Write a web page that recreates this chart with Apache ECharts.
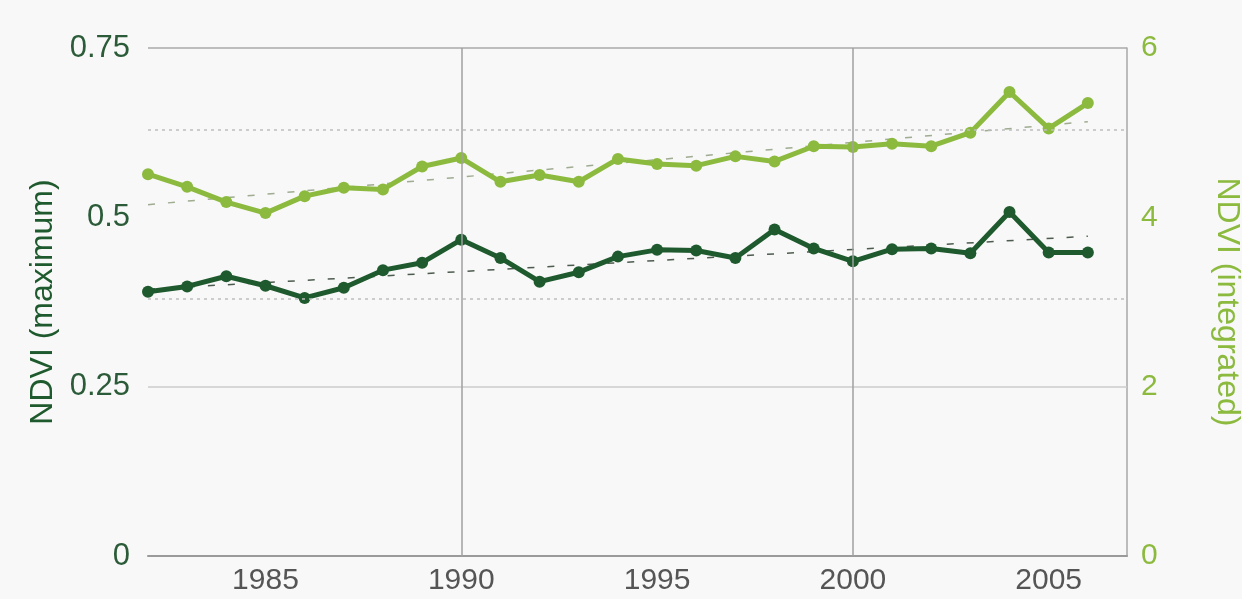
<!DOCTYPE html>
<html>
<head>
<meta charset="utf-8">
<title>NDVI 1982–2006</title>
<script src="https://cdn.jsdelivr.net/npm/echarts@6/dist/echarts.min.js"></script>
<style>
  html, body { margin: 0; padding: 0; background: #f8f8f8; }
  #chart { width: 1242px; height: 599px; }
</style>
</head>
<body>
<div id="chart"></div>
<script>
// Years of the record
const years = [1982, 1983, 1984, 1985, 1986, 1987, 1988, 1989, 1990, 1991, 1992, 1993,
               1994, 1995, 1996, 1997, 1998, 1999, 2000, 2001, 2002, 2003, 2004, 2005, 2006];

// Annual maximum NDVI (left axis)
const ndviMax = [0.390, 0.398, 0.413, 0.399, 0.381, 0.396, 0.422, 0.433, 0.467, 0.440, 0.405, 0.419,
                 0.442, 0.452, 0.451, 0.440, 0.482, 0.454, 0.435, 0.453, 0.454, 0.447, 0.508, 0.448, 0.448];

// Integrated (growing-season) NDVI (right axis)
const ndviInt = [4.51, 4.36, 4.18, 4.05, 4.25, 4.35, 4.33, 4.60, 4.70, 4.42, 4.50, 4.42,
                 4.69, 4.63, 4.61, 4.72, 4.66, 4.84, 4.83, 4.87, 4.84, 5.00, 5.48, 5.05, 5.35];

// Linear trend end points (first and last year)
const trendYears = [1982, 2006];
const trendMax = [0.394, 0.472];
const trendInt = [4.15, 5.13];

// Axis ticks and reference lines
const xLabelYears = [1985, 1990, 1995, 2000, 2005];
const xGridYears = [1990, 2000];
const leftSolidLines = [0.25, 0.75];
const leftDottedLines = [0.375, 0.625];

const darkGreen = '#1f5a2e';
const lightGreen = '#8cba3f';

const pairs = (xs, ys) => xs.map((x, i) => [x, ys[i]]);

const chart = echarts.init(document.getElementById('chart'), null, { renderer: 'canvas' });

const gridLines = [
  ...leftSolidLines.map(v => ({
    yAxis: v,
    lineStyle: { color: v === 0.75 ? '#aaaaaa' : '#cccccc', width: 1.5, type: 'solid' }
  })),
  ...leftDottedLines.map(v => ({
    yAxis: v,
    lineStyle: { color: '#bdbdbd', width: 1.5, type: [3, 4] }
  })),
  ...xGridYears.map(y => ({
    xAxis: y,
    lineStyle: { color: '#a0a0a0', width: 1.5, type: 'solid' }
  }))
];

chart.setOption({
  backgroundColor: '#f8f8f8',
  animation: false,
  grid: {
    left: 148, right: 115, top: 48, bottom: 43,
    containLabel: false,
    outerBoundsMode: 'none'
  },
  xAxis: {
    type: 'value',
    min: 1982,
    max: 2007,
    interval: 1,
    axisLine: { show: true, lineStyle: { color: '#9a9a9a', width: 2 } },
    axisTick: { show: false },
    splitLine: { show: false },
    axisLabel: {
      color: '#555555',
      fontFamily: 'Liberation Sans, Arial, sans-serif',
      fontSize: 30,
      margin: 10,
      formatter: v => (xLabelYears.includes(v) ? String(v) : '')
    }
  },
  yAxis: [
    {
      type: 'value',
      min: 0,
      max: 0.75,
      interval: 0.25,
      name: 'NDVI (maximum)',
      nameLocation: 'middle',
      nameGap: 89,
      nameRotate: 90,
      nameTextStyle: {
        color: darkGreen,
        fontFamily: 'Liberation Sans, Arial, sans-serif',
        fontSize: 32
      },
      axisLine: { show: false },
      axisTick: { show: false },
      splitLine: { show: false },
      axisLabel: {
        color: '#2b5b38',
        fontFamily: 'Liberation Sans, Arial, sans-serif',
        fontSize: 31,
        margin: 18
      }
    },
    {
      type: 'value',
      min: 0,
      max: 6,
      interval: 2,
      position: 'right',
      name: 'NDVI (integrated)',
      nameLocation: 'middle',
      nameGap: 84,
      nameRotate: -90,
      nameTextStyle: {
        color: lightGreen,
        fontFamily: 'Liberation Sans, Arial, sans-serif',
        fontSize: 32
      },
      axisLine: { show: true, lineStyle: { color: '#a8a8a8', width: 1.5 } },
      axisTick: { show: false },
      splitLine: { show: false },
      axisLabel: {
        color: lightGreen,
        fontFamily: 'Liberation Sans, Arial, sans-serif',
        fontSize: 30,
        margin: 14
      }
    }
  ],
  series: [
    {
      name: 'trend-max',
      type: 'line',
      yAxisIndex: 0,
      z: 1,
      data: pairs(trendYears, trendMax),
      symbol: 'none',
      silent: true,
      lineStyle: { color: '#2f3f31', width: 1.5, type: [7, 13], opacity: 0.85 },
      markLine: {
        silent: true,
        symbol: 'none',
        label: { show: false },
        data: gridLines
      }
    },
    {
      name: 'trend-int',
      type: 'line',
      yAxisIndex: 1,
      z: 1,
      data: pairs(trendYears, trendInt),
      symbol: 'none',
      silent: true,
      lineStyle: { color: '#95a385', width: 1.5, type: [7, 13], opacity: 0.9 }
    },
    {
      name: 'NDVI (integrated)',
      type: 'line',
      yAxisIndex: 1,
      z: 3,
      data: pairs(years, ndviInt),
      symbol: 'circle',
      symbolSize: 12,
      lineStyle: { color: lightGreen, width: 5 },
      itemStyle: { color: lightGreen }
    },
    {
      name: 'NDVI (maximum)',
      type: 'line',
      yAxisIndex: 0,
      z: 3,
      data: pairs(years, ndviMax),
      symbol: 'circle',
      symbolSize: 12,
      lineStyle: { color: darkGreen, width: 5 },
      itemStyle: { color: darkGreen }
    }
  ]
});
</script>
</body>
</html>
